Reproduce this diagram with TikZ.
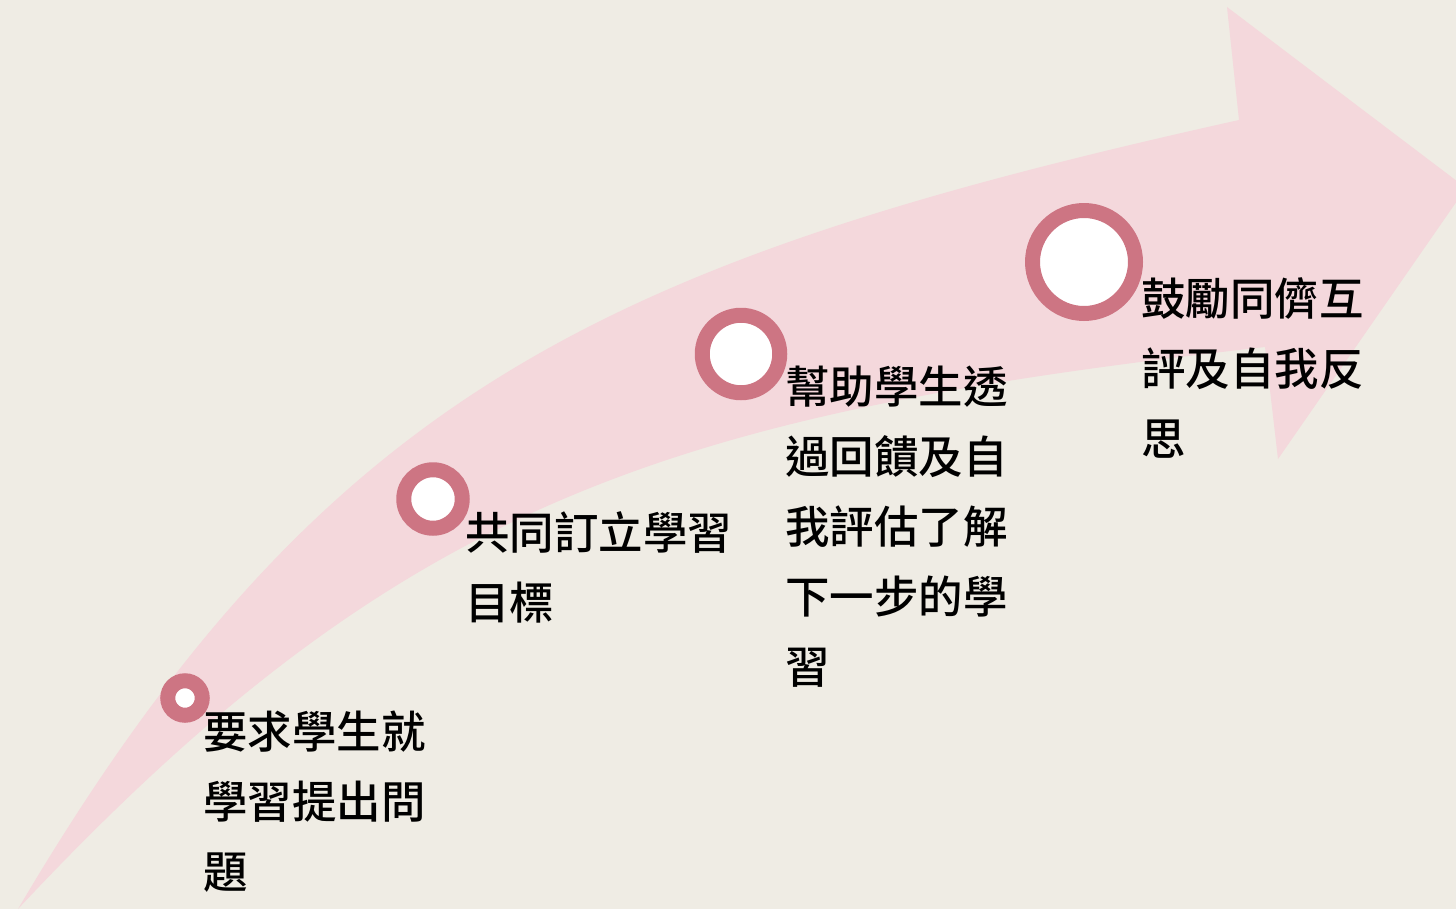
\documentclass[tikz,border=0pt]{standalone}
\usepackage{fontspec}
\usepackage{xcolor}
\usepackage{tikz}
\newfontfamily\cjk{Noto Sans CJK TC}[BoldFont={Noto Sans CJK TC Medium}]
\definecolor{bgcream}{RGB}{239,236,228}
\definecolor{arrowpink}{RGB}{244,216,220}
\definecolor{ringrose}{RGB}{205,117,131}
\definecolor{textblack}{RGB}{0,0,0}

\begin{document}
\begin{tikzpicture}[x=0.02cm,y=-0.02cm,
    stepring/.style={circle,draw=ringrose,fill=white,line width=0.3cm,inner sep=0pt},
    steptext/.style={anchor=north west,inner sep=0pt,align=left,textblack,
      font=\cjk\bfseries\fontsize{25.3}{39.8}\selectfont}]
    % Canvas
    \useasboundingbox (0,0) rectangle (1456,909);
    \fill[bgcream] (0,0) rectangle (1456,909);
    \clip (0,0) rectangle (1456,909);
    % Curved arrow
    \fill[arrowpink] (18,909) .. controls (323,392) and (605,261) .. (1239,120)
      -- (1227,7) -- (1466,188) -- (1278,459) -- (1265,347)
      .. controls (669,414) and (401,500) .. (18,909) -- cycle;
    % Milestones
    \node[stepring,minimum size=0.69cm] (ring1) at (185,698) {};
    \node[stepring,minimum size=1.17cm] (ring2) at (433,499) {};
    \node[stepring,minimum size=1.55cm] (ring3) at (741,354) {};
    \node[stepring,minimum size=2.06cm] (ring4) at (1084,262) {};
    % Labels
    \node[steptext] (text1) at (203,711) {要求學生就\\學習提出問\\題};
    \node[steptext] (text2) at (465,511) {共同訂立學習\\目標};
    \node[steptext] (text3) at (785,366) {幫助學生透\\過回饋及自\\我評估了解\\下一步的學\\習};
    \node[steptext] (text4) at (1141,277) {鼓勵同儕互\\評及自我反\\思};
\end{tikzpicture}
\end{document}
